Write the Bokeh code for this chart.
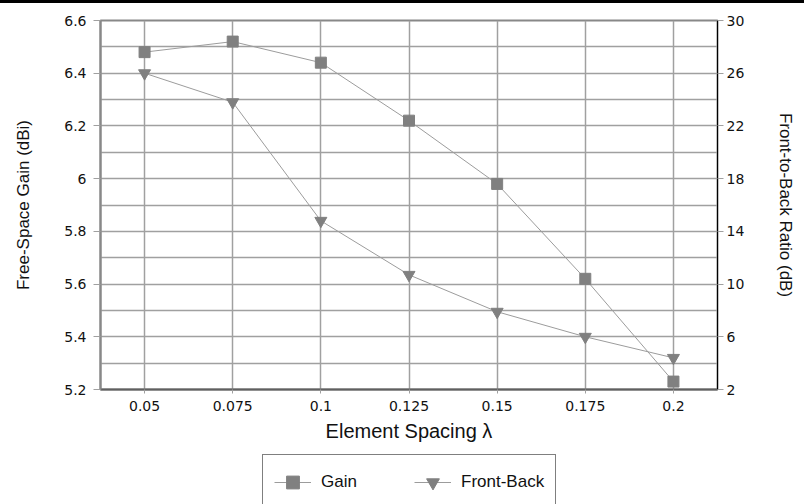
from bokeh.plotting import figure
from bokeh.models import (Range1d, LinearAxis, FixedTicker, PrintfTickFormatter,
                          Legend, LegendItem, Div)
from bokeh.layouts import column
from bokeh.embed import file_html
from bokeh.resources import INLINE

# Element spacing (wavelengths) and the two measured quantities
spacing = [0.05, 0.075, 0.1, 0.125, 0.15, 0.175, 0.2]
gain_dbi = [6.48, 6.52, 6.44, 6.22, 5.98, 5.62, 5.23]
front_back_db = [26.0, 23.8, 14.8, 10.7, 7.9, 6.0, 4.4]

# Tick positions
spacing_ticks = [0.05, 0.075, 0.1, 0.125, 0.15, 0.175, 0.2]
gain_ticks = [5.2, 5.4, 5.6, 5.8, 6.0, 6.2, 6.4, 6.6]
gain_minor_ticks = [5.3, 5.5, 5.7, 5.9, 6.1, 6.3, 6.5]
fb_ticks = [2, 6, 10, 14, 18, 22, 26, 30]

FONT = "Liberation Sans"
TICK_FONT = "DejaVu Sans"
GRID = "#a0a0a0"
MARK = "#808080"
LINE = "#9c9c9c"


def add_series(fig):
    """Gain and front-to-back traces; returns the renderers for the legend."""
    gl = fig.line(spacing, gain_dbi, line_color=LINE, line_width=1)
    gm = fig.scatter(spacing, gain_dbi, marker="square", size=11,
                     fill_color=MARK, line_color=MARK)
    fl = fig.line(spacing, front_back_db, line_color=LINE, line_width=1,
                  y_range_name="fb")
    fm = fig.scatter(spacing, front_back_db, marker="inverted_triangle", size=12,
                     fill_color=MARK, line_color=MARK, y_range_name="fb")
    return [gl, gm], [fl, fm]


# ---- main chart ----
p = figure(width=804, height=450, output_backend="svg", toolbar_location=None,
           title=None, x_range=Range1d(0.0375, 0.2125), y_range=Range1d(5.2, 6.6),
           min_border_left=100, min_border_right=87, min_border_top=17,
           min_border_bottom=64)
p.background_fill_color = "white"
p.border_fill_color = "white"
p.outline_line_color = "#888888"
p.outline_line_width = 2
p.extra_y_ranges = {"fb": Range1d(2, 30)}

p.xgrid.ticker = FixedTicker(ticks=spacing_ticks)
p.ygrid.ticker = FixedTicker(ticks=gain_ticks, minor_ticks=gain_minor_ticks)
for g in (p.xgrid, p.ygrid):
    g.grid_line_color = GRID
    g.grid_line_width = 1.5
p.ygrid.minor_grid_line_color = GRID
p.ygrid.minor_grid_line_width = 1.5

xa = p.xaxis[0]
xa.ticker = FixedTicker(ticks=spacing_ticks)
xa.formatter = PrintfTickFormatter(format="%g")
xa.axis_label = "Element Spacing λ"
xa.axis_line_color = "#606060"
xa.axis_line_width = 2
xa.major_tick_out = 4
xa.major_tick_in = 0
xa.major_tick_line_color = GRID
xa.minor_tick_line_color = None
xa.major_label_standoff = 7
xa.axis_label_standoff = 6

ya = p.yaxis[0]
ya.ticker = FixedTicker(ticks=gain_ticks, minor_ticks=gain_minor_ticks)
ya.formatter = PrintfTickFormatter(format="%g")
ya.axis_label = "Free-Space Gain (dBi)"
ya.axis_line_color = "#888888"
ya.axis_line_width = 2
ya.major_tick_out = 7
ya.major_tick_in = 0
ya.major_tick_line_color = GRID
ya.minor_tick_line_color = None
ya.major_label_standoff = 7
ya.axis_label_standoff = 28

ra = LinearAxis(y_range_name="fb", ticker=FixedTicker(ticks=fb_ticks),
                formatter=PrintfTickFormatter(format="%g"),
                axis_label="Front-to-Back Ratio (dB)")
ra.axis_line_color = "black"
ra.axis_line_width = 1
ra.major_tick_out = 6
ra.major_tick_in = 0
ra.major_tick_line_color = GRID
ra.minor_tick_line_color = None
ra.major_label_standoff = 3
ra.axis_label_standoff = 29
p.add_layout(ra, "right")

for ax in (xa, ya, ra):
    ax.major_label_text_font = TICK_FONT
    ax.major_label_text_font_size = "14px"
    ax.major_label_text_color = "#111111"
    ax.axis_label_text_font = FONT
    ax.axis_label_text_font_style = "normal"
    ax.axis_label_text_color = "#111111"
    ax.axis_label_text_font_size = "17px"
xa.axis_label_text_font_size = "20px"

add_series(p)

# ---- legend strip under the chart ----
# Same traces, with ranges that keep them out of view: only the key is seen.
key = figure(width=804, height=51, output_backend="svg", toolbar_location=None,
             title=None, x_range=Range1d(0, 1), y_range=Range1d(100, 101),
             x_axis_type=None, y_axis_type=None, min_border=0)
key.extra_y_ranges = {"fb": Range1d(100, 101)}
key.outline_line_color = None
key.grid.visible = False
key.background_fill_color = "white"
key.border_fill_color = "white"
gain_r, fb_r = add_series(key)

legend = Legend(items=[LegendItem(label="Gain", renderers=gain_r),
                       LegendItem(label="Front-Back", renderers=fb_r)],
                orientation="horizontal", location=(162, -6))
legend.border_line_color = "black"
legend.border_line_width = 1
legend.background_fill_color = "white"
legend.background_fill_alpha = 1
legend.padding = 11
legend.spacing = 10
legend.margin = 0
legend.glyph_width = 37
legend.glyph_height = 32
legend.label_height = 32
legend.label_width = 83
legend.label_standoff = 10
legend.label_text_font = FONT
legend.label_text_font_size = "17px"
legend.label_text_color = "#111111"
key.add_layout(legend)

top_bar = Div(text="", width=804, height=3, margin=0,
              styles={"background-color": "black"})
layout = column(top_bar, p, key, spacing=0)

open("out.html", "w").write(file_html(layout, INLINE))
